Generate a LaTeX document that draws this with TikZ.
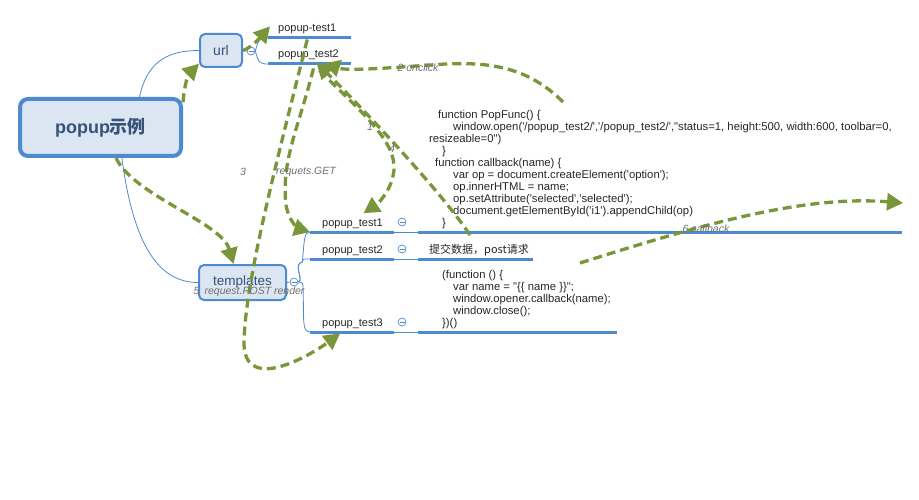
\documentclass[tikz,border=0pt]{standalone}
\usepackage{fontspec}
\newfontfamily\uifont{Liberation Sans}
\newfontfamily\cjk{Noto Sans CJK SC}
\usetikzlibrary{arrows.meta, calc}
\definecolor{mapblue}{RGB}{78,138,208}
\definecolor{mapfill}{RGB}{220,230,243}
\definecolor{maptext}{RGB}{55,82,118}
\definecolor{flow}{RGB}{122,150,58}
\definecolor{note}{RGB}{112,112,112}

\begin{document}
\begin{tikzpicture}[x=1pt, y=-1pt, font=\uifont,
    topic/.style={draw=mapblue, fill=mapfill, rounded corners=5pt, text=maptext, inner sep=0pt},
    branch/.style={mapblue, line width=0.8pt},
    bar/.style={mapblue, line width=3pt},
    fold/.style={circle, draw=mapblue, line width=0.7pt, fill=white, minimum size=8pt, inner sep=0pt,
        path picture={\draw[mapblue, line width=0.7pt] ([xshift=-2.5pt]path picture bounding box.center) -- ([xshift=2.5pt]path picture bounding box.center);}},
    leaf/.style={font=\uifont\fontsize{11}{12}\selectfont, text=black!85, inner sep=0pt, anchor=base west},
    code/.style={leaf, font=\uifont\fontsize{11.3}{12}\selectfont, align=left, anchor=north west},
    flowline/.style={flow, line width=3.3pt, dash pattern=on 9pt off 5pt, -{Triangle[length=16pt, width=17pt]}},
    tag/.style={font=\uifont\fontsize{10.5}{12}\selectfont\itshape, text=note, inner sep=0pt}]
    \useasboundingbox (0,0) rectangle (919,500);

    % main topics
    \node[topic, line width=4pt, rounded corners=8pt, minimum width=161pt, minimum height=57pt,
        font=\uifont\bfseries\fontsize{18}{20}\selectfont] (root) at (100.5,127.5) {popup{\cjk\bfseries 示例}};
    \node[topic, line width=2pt, minimum width=42pt, minimum height=33pt, font=\uifont\fontsize{14}{16}\selectfont] (url) at (221,50.5) {url};
    \node[topic, line width=2pt, minimum width=87pt, minimum height=35pt, font=\uifont\fontsize{13.5}{16}\selectfont] (tpl) at (242.5,282.5) {templates};
    \draw[branch] (root.38) .. controls +(8,-38) and +(-28,0) .. (url.west);
    \draw[branch] (root.-55) .. controls +(10,75) and +(-45,0) .. (tpl.west);

    % url branch
    \node[fold] (urlfold) at (251,51) {};
    \draw[branch] (url.east) -- (urlfold.west);
    \coordinate (u1) at (268,38);
    \coordinate (u2) at (268,64);
    \draw[branch] (urlfold.east) .. controls +(3,-11) and +(-9,0) .. (u1);
    \draw[branch] (urlfold.east) .. controls +(3,11) and +(-9,0) .. (u2);
    \draw[bar] (u1) -- ++(83,0);
    \draw[bar] (u2) -- ++(83,0);
    \node[leaf] (q1) at (278,32) {popup-test1};
    \node[leaf] (q2) at (278,58) {popup\_test2};

    % templates branch
    \node[fold] (tplfold) at (294,282) {};
    \draw[branch] (tpl.east) -- (tplfold.west);
    \coordinate (t1) at (310,232);
    \coordinate (t2) at (310,259);
    \coordinate (t3) at (310,332);
    \draw[branch] (tplfold.east) .. controls +(6,-2) and +(-10,2) .. ++(4,-20) .. controls +(2,-22) and +(-6,0) .. (t1);
    \draw[branch] (tplfold.east) .. controls +(6,-2) and +(-10,2) .. ++(4,-20) .. controls +(1,-4) and +(-6,0) .. (t2);
    \draw[branch] (tplfold.east) .. controls +(4,2) and +(0,-25) .. ++(5,20) .. controls +(0,25) and +(-6,0) .. (t3);
    \draw[bar] (t1) -- ++(84,0);
    \draw[bar] (t2) -- ++(84,0);
    \draw[bar] (t3) -- ++(84,0);
    \node[leaf] (pt1) at (322,226) {popup\_test1};
    \node[leaf] (pt2) at (322,253) {popup\_test2};
    \node[leaf] (pt3) at (322,326) {popup\_test3};
    \node[fold] (f1) at (402,222) {};
    \node[fold] (f2) at (402,249) {};
    \node[fold] (f3) at (402,322) {};
    \draw[branch] (394,232) -- (418,232);
    \draw[branch] (394,259) -- (418,259);
    \draw[branch] (394,332) -- (418,332);
    \draw[bar] (418,232) -- (902,232);
    \draw[bar] (418,259) -- (533,259);
    \draw[bar] (418,332) -- (617,332);

    % leaf texts
    \node[code] (code1) at (429,110.5) {\hspace*{9pt}function PopFunc() \{\\
        \hspace*{24pt}window.open('/popup\_test2/','/popup\_test2/',"status=1, height:500, width:600, toolbar=0,\\
        resizeable=0")\\
        \hspace*{13pt}\}\\
        \hspace*{6pt}function callback(name) \{\\
        \hspace*{24pt}var op = document.createElement('option');\\
        \hspace*{24pt}op.innerHTML = name;\\
        \hspace*{24pt}op.setAttribute('selected','selected');\\
        \hspace*{24pt}document.getElementById('i1').appendChild(op)\\
        \hspace*{13pt}\}};
    \node[leaf] (post) at (429,253) {\cjk 提交数据，post请求};
    \node[code] (code3) at (429,270.5) {\hspace*{13pt}(function () \{\\
        \hspace*{24pt}var name = "\{\{ name \}\}";\\
        \hspace*{24pt}window.opener.callback(name);\\
        \hspace*{24pt}window.close();\\
        \hspace*{13pt}\})()};

    % request flow
    \coordinate (onclick) at (563,102);
    \coordinate (cb1) at (470,235);
    \coordinate (cbs) at (580,263);
    \coordinate (cbe) at (903,203);
    \draw[flowline] (root.17) .. controls +(2,-22) and +(-10,10) .. (url.211);
    \draw[flowline] (url.east) .. controls +(9,-3) and +(-7,8) .. ($(q1.west)+(-8,-3)$);
    \draw[flowline] (root.-63) .. controls +(18,38) and +(-12,-42) .. ([xshift=-9pt]tpl.north);
    \draw[flowline] (onclick) .. controls +(-35,-35) and +(45,-2) .. (445,64) .. controls +(-45,3) and +(25,8) .. ($(q2.south east)+(-15,3)$);
    \draw[flowline] (cb1) .. controls +(-30,-45) and +(45,45) .. ($(q2.south)+(8,2)$);
    \draw[flowline] ($(q2.south)+(11,10)$) .. controls +(40,40) and +(2,-30) .. (394,170) .. controls +(-2,20) and +(15,-10) .. ($(pt1.north)+(11,-5)$);
    \draw[flowline] ($(q2.south)+(5,8)$) .. controls +(-15,60) and +(-5,-45) .. (286,205) .. controls +(3,18) and +(-10,-3) .. (t1);
    \draw[flowline] ($(q1.south)+(0,5)$) .. controls +(-30,120) and +(0,-60) .. (244,345) .. controls +(2,48) and +(-30,22) .. ($(pt3.south west)+(18,5)$);
    \draw[flowline] (cbs) .. controls +(120,-38) and +(-100,-8) .. (cbe);

    % flow labels
    \node[tag] (l2) at (418,68) {2 onclick};
    \node[tag] (l1) at (370,127) {1};
    \node[tag] (l4) at (392,149) {4};
    \node[tag] (l3) at (243,172) {3};
    \node[tag] (lget) at (306,172) {requets.GET};
    \node[tag] (l5) at (249,292) {5\enspace request.POST render};
    \node[tag] (l6) at (706,229) {6 callback};
\end{tikzpicture}
\end{document}
